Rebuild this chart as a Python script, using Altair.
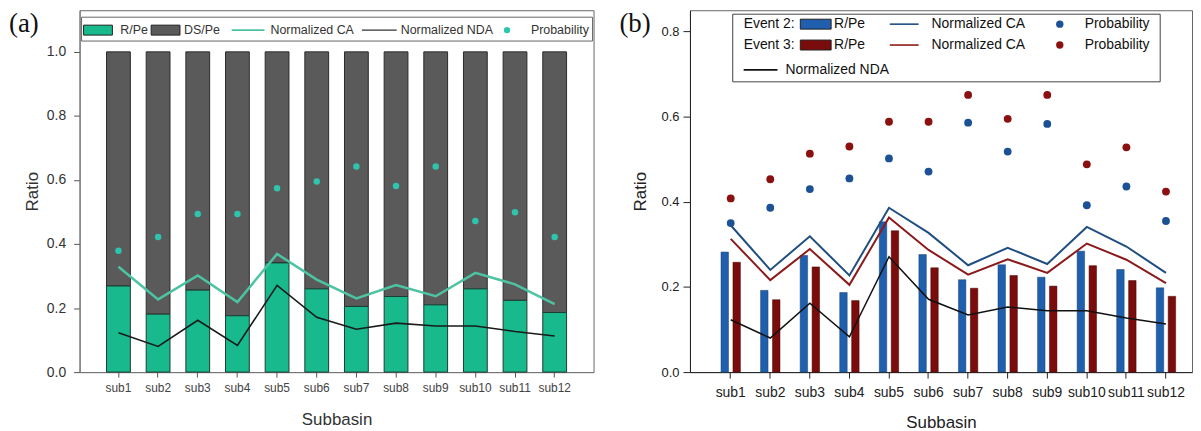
import altair as alt
import pandas as pd

subs = [f"sub{i}" for i in range(1, 13)]

# Panel (a)
rpe_a = [0.269, 0.181, 0.256, 0.176, 0.341, 0.260, 0.205, 0.236, 0.210, 0.260, 0.224, 0.186]
ca_a = [0.329, 0.227, 0.302, 0.219, 0.369, 0.289, 0.230, 0.272, 0.237, 0.310, 0.274, 0.212]
nda = [0.123, 0.080, 0.162, 0.083, 0.271, 0.171, 0.134, 0.153, 0.144, 0.144, 0.127, 0.113]
prob_a = [0.379, 0.422, 0.494, 0.494, 0.574, 0.595, 0.642, 0.581, 0.642, 0.472, 0.499, 0.422]

# Panel (b)
rpe2 = [0.282, 0.192, 0.274, 0.187, 0.353, 0.276, 0.217, 0.252, 0.223, 0.284, 0.241, 0.198]
rpe3 = [0.258, 0.170, 0.247, 0.168, 0.332, 0.245, 0.197, 0.227, 0.202, 0.250, 0.215, 0.178]
ca2 = [0.345, 0.240, 0.319, 0.227, 0.386, 0.327, 0.251, 0.292, 0.254, 0.341, 0.295, 0.233]
ca3 = [0.313, 0.216, 0.289, 0.205, 0.363, 0.287, 0.229, 0.265, 0.233, 0.302, 0.264, 0.209]
prob2 = [0.350, 0.386, 0.430, 0.455, 0.502, 0.471, 0.586, 0.518, 0.583, 0.392, 0.436, 0.355]
prob3 = [0.408, 0.453, 0.513, 0.530, 0.588, 0.588, 0.651, 0.595, 0.651, 0.488, 0.528, 0.424]

df = pd.DataFrame({
    "sub": subs, "rpe_a": rpe_a, "ca_a": ca_a, "nda": nda, "prob_a": prob_a,
    "rpe2": rpe2, "rpe3": rpe3, "ca2": ca2, "ca3": ca3, "prob2": prob2, "prob3": prob3,
})
df["total"] = 1.0

one = pd.DataFrame({"k": [0]})
FONT = "Liberation Sans"

TEAL = "#17b98d"
TEAL_LINE = "#4cc3a2"
TEAL_DOT = "#2ec4ae"
GRAY = "#5a5a5a"
BLUE = "#1f5fae"
RED = "#7a0c0c"
BLUE_LINE = "#1f4e80"
RED_LINE = "#8b1a1a"
BLUE_DOT = "#1c5294"
RED_DOT = "#8b1010"

# ---------- panel (a) ----------
W_A, H_A = 517, 364

xa = alt.X("sub:N", sort=subs,
           scale=alt.Scale(paddingInner=0.4, paddingOuter=0.68),
           axis=alt.Axis(title="Subbasin", labelAngle=0, labelFontSize=12, labelColor="#444",
                         tickSize=5, labelPadding=6, titleFontSize=17, titleColor="#333",
                         titleFontWeight="normal", grid=False,
                         titlePadding=18, domainColor="#777", tickColor="#555"))


def ya(field):
    return alt.Y(field, type="quantitative",
                 scale=alt.Scale(domain=[0, 1.13], nice=False, zero=True),
                 axis=alt.Axis(title="Ratio", values=[0, 0.2, 0.4, 0.6, 0.8, 1.0], format=".1f",
                               labelFontSize=14, labelColor="#333", tickSize=6, labelPadding=8,
                               titleFontSize=17, titleColor="#333", titlePadding=5,
                               titleFontWeight="normal", grid=False,
                               domainColor="#777", tickColor="#555"))


base_a = alt.Chart(df)
ds_bar = base_a.mark_bar(color=GRAY, stroke="#2a2a2a", strokeWidth=1).encode(
    x=xa, y=ya("rpe_a"), y2=alt.Y2("total"))
r_bar = base_a.mark_bar(color=TEAL, stroke="#1e3b33", strokeWidth=1).encode(
    x=xa, y=ya("rpe_a"))
ca_line = base_a.mark_line(color=TEAL_LINE, strokeWidth=2.5).encode(x=xa, y=ya("ca_a"))
nda_line = base_a.mark_line(color="#1a1a1a", strokeWidth=1.6).encode(x=xa, y=ya("nda"))
prob_pts = base_a.mark_circle(color=TEAL_DOT, size=42, opacity=1).encode(x=xa, y=ya("prob_a"))


def ltext(txt, x, y, size=12.5, color="#333"):
    return alt.Chart(one).mark_text(text=txt, align="left", baseline="middle", font=FONT,
                                    fontSize=size, color=color).encode(
        x=alt.value(x), y=alt.value(y))


def lrect(x, x2, y, y2, fill, stroke="#222"):
    return alt.Chart(one).mark_rect(color=fill, stroke=stroke, strokeWidth=1).encode(
        x=alt.value(x), x2=alt.value(x2), y=alt.value(y), y2=alt.value(y2))


def lrule(x, x2, y, color, w):
    return alt.Chart(one).mark_rule(color=color, strokeWidth=w).encode(
        x=alt.value(x), x2=alt.value(x2), y=alt.value(y))


def ldot(x, y, color, size):
    return alt.Chart(one).mark_circle(color=color, size=size, opacity=1).encode(
        x=alt.value(x), y=alt.value(y))


LY = 20
legend_a = [
    alt.Chart(one).mark_rect(fill="white", stroke="#666", strokeWidth=1).encode(
        x=alt.value(2), x2=alt.value(516), y=alt.value(7), y2=alt.value(31)),
    lrect(4, 33, LY - 5, LY + 5, TEAL),
    ltext("R/Pe", 41, LY),
    lrect(72, 101, LY - 5, LY + 5, GRAY),
    ltext("DS/Pe", 105, LY),
    lrule(153, 186, LY, TEAL_LINE, 1.8),
    ltext("Normalized CA", 192, LY),
    lrule(284, 319, LY, "#333", 1.2),
    ltext("Normalized NDA", 323, LY),
    ldot(430, LY, TEAL_DOT, 42),
    ltext("Probability", 454, LY),
]
label_a = alt.Chart(one).mark_text(text="(a)", align="left", baseline="top",
                                   font="Liberation Serif", fontSize=27, color="#111").encode(
    x=alt.value(-71), y=alt.value(1))

panel_a = alt.layer(ds_bar, r_bar, ca_line, nda_line, prob_pts, *legend_a, label_a).properties(
    width=W_A, height=H_A)

# ---------- panel (b) ----------
W_B, H_B = 505, 364

xb = alt.X("sub:N", sort=subs,
           scale=alt.Scale(paddingInner=0, paddingOuter=0.344, align=0.77),
           axis=alt.Axis(title="Subbasin", labelAngle=0, labelFontSize=14, labelColor="#222",
                         tickSize=6, labelPadding=8, titleFontSize=17, titleColor="#222",
                         titleFontWeight="normal", grid=False,
                         titlePadding=15, domainColor="#222", tickColor="#222"))


def yb(field):
    return alt.Y(field, type="quantitative",
                 scale=alt.Scale(domain=[0, 0.85], nice=False, zero=True),
                 axis=alt.Axis(title="Ratio", values=[0, 0.2, 0.4, 0.6, 0.8], format=".1f",
                               labelFontSize=13, labelColor="#222", tickSize=7, labelPadding=4,
                               titleFontSize=17, titleColor="#222", titlePadding=12,
                               titleFontWeight="normal", grid=False,
                               domainColor="#222", tickColor="#222"))


base_b = alt.Chart(df)
b2 = base_b.mark_bar(color=BLUE, width=7.5, xOffset=-6, stroke="#17406e", strokeWidth=0.5).encode(
    x=xb, y=yb("rpe2"))
b3 = base_b.mark_bar(color=RED, width=7.5, xOffset=6, stroke="#4a0505", strokeWidth=0.5).encode(
    x=xb, y=yb("rpe3"))
l2 = base_b.mark_line(color=BLUE_LINE, strokeWidth=2).encode(x=xb, y=yb("ca2"))
l3 = base_b.mark_line(color=RED_LINE, strokeWidth=2).encode(x=xb, y=yb("ca3"))
lnda = base_b.mark_line(color="#111", strokeWidth=1.5).encode(x=xb, y=yb("nda"))
p2 = base_b.mark_circle(color=BLUE_DOT, size=62, opacity=1).encode(x=xb, y=yb("prob2"))
p3 = base_b.mark_circle(color=RED_DOT, size=62, opacity=1).encode(x=xb, y=yb("prob3"))

R1, R2, R3 = 14, 35, 60
legend_b = [
    alt.Chart(one).mark_rect(fill="white", stroke="#444", strokeWidth=1).encode(
        x=alt.value(43), x2=alt.value(473), y=alt.value(4), y2=alt.value(72)),
    ltext("Event 2:", 54, R1, 14, "#111"),
    lrect(111, 142, R1 - 5, R1 + 5, BLUE),
    ltext("R/Pe", 145, R1, 14, "#111"),
    lrule(201, 230, R1, BLUE_LINE, 1.6),
    ltext("Normalized CA", 243, R1, 14, "#111"),
    ldot(372, R1, BLUE_DOT, 55),
    ltext("Probability", 397, R1, 14, "#111"),
    ltext("Event 3:", 54, R2, 14, "#111"),
    lrect(111, 142, R2 - 5, R2 + 5, RED),
    ltext("R/Pe", 145, R2, 14, "#111"),
    lrule(201, 230, R2, RED_LINE, 1.6),
    ltext("Normalized CA", 243, R2, 14, "#111"),
    ldot(372, R2, RED_DOT, 55),
    ltext("Probability", 397, R2, 14, "#111"),
    lrule(54, 88, R3, "#111", 1.6),
    ltext("Normalized NDA", 96, R3, 14, "#111"),
]
label_b = alt.Chart(one).mark_text(text="(b)", align="left", baseline="top",
                                   font="Liberation Serif", fontSize=27, color="#111").encode(
    x=alt.value(-71), y=alt.value(1))

panel_b = alt.layer(b2, b3, l2, l3, lnda, p2, p3, *legend_b, label_b).properties(
    width=W_B, height=H_B)

chart = alt.hconcat(panel_a, panel_b, spacing=24).properties(padding=0).configure(
    font=FONT).configure_view(stroke="#666", strokeWidth=1).configure_axis(
    grid=False, labelFont=FONT, titleFont=FONT, titleFontWeight="normal")

chart.save("out.html", embed_options={"renderer": "svg", "actions": False})
